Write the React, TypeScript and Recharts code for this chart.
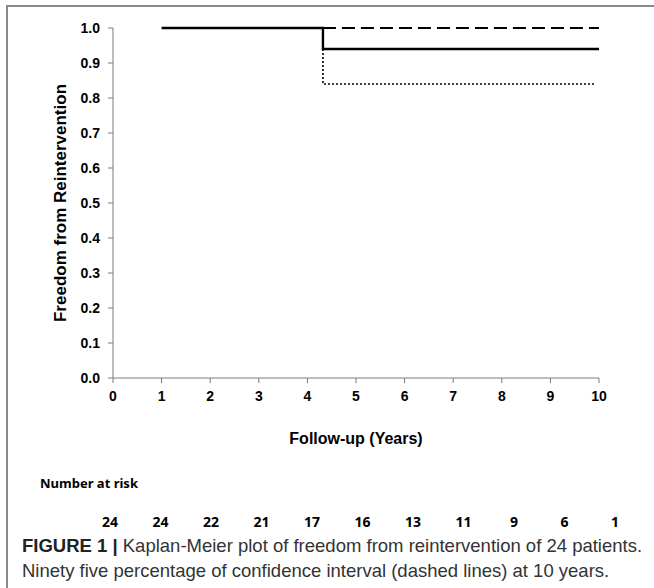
import React from 'react';
import { LineChart, Line, XAxis, YAxis } from 'recharts';

// follow-up years on the x axis
const xTicks = [0, 1, 2, 3, 4, 5, 6, 7, 8, 9, 10];
const yTicks = [0, 0.1, 0.2, 0.3, 0.4, 0.5, 0.6, 0.7, 0.8, 0.9, 1.0];

// Kaplan-Meier estimate and 95% CI bounds
const survival = [
  { year: 1, value: 1.0 },
  { year: 4.32, value: 0.94 },
  { year: 10, value: 0.94 },
];
const upperCI = [
  { year: 4.32, value: 1.0 },
  { year: 10, value: 1.0 },
];
const lowerCI = [
  { year: 4.32, value: 0.94 },
  { year: 4.32, value: 0.84 },
  { year: 9.92, value: 0.84 },
];

const atRisk = [24, 24, 22, 21, 17, 16, 13, 11, 9, 6, 1];

const axisFont = "'Liberation Sans Narrow', 'Liberation Sans', Arial, sans-serif";
const axisColor = '#7a7a7a';

export default function App() {
  return (
    <div
      style={{
        position: 'absolute',
        left: 0,
        top: 0,
        width: 654,
        height: 588,
        background: '#fff',
        overflow: 'hidden',
      }}
    >
      <div
        style={{
          position: 'absolute',
          left: 6,
          top: 5,
          width: 660,
          height: 600,
          borderLeft: '2px solid #8a8a8a',
          borderTop: '2px solid #8a8a8a',
        }}
      />
      <div style={{ position: 'absolute', left: 0, top: 0 }}>
        <LineChart width={654} height={448} margin={{ top: 28, right: 55, bottom: 0, left: 0 }}>
          <XAxis
            type="number"
            dataKey="year"
            domain={[0, 10]}
            ticks={xTicks}
            height={70}
            stroke={axisColor}
            tickSize={5}
            tickMargin={8}
            tick={{ fill: '#000', fontSize: 14, fontWeight: 'bold', fontFamily: axisFont }}
            label={{
              value: 'Follow-up (Years)',
              position: 'insideBottom',
              offset: 4,
              style: { fill: '#000', fontSize: 16, fontWeight: 'bold', fontFamily: "'Liberation Sans', Arial, sans-serif" },
            }}
          />
          <YAxis
            type="number"
            domain={[0, 1]}
            ticks={yTicks}
            width={113}
            stroke={axisColor}
            tickSize={5}
            tickMargin={8}
            tickFormatter={(v: number) => v.toFixed(1)}
            tick={{ fill: '#000', fontSize: 14, fontWeight: 'bold', fontFamily: axisFont }}
            label={{
              value: 'Freedom from Reintervention',
              angle: -90,
              position: 'insideLeft',
              offset: 60,
              style: {
                textAnchor: 'middle',
                fill: '#000',
                fontSize: 17,
                fontWeight: 'bold',
                fontFamily: "'Liberation Sans', Arial, sans-serif",
              },
            }}
          />
          <Line
            data={upperCI}
            dataKey="value"
            type="linear"
            stroke="#000"
            strokeWidth={2.2}
            strokeDasharray="13 6"
            dot={false}
            isAnimationActive={false}
          />
          <Line
            data={lowerCI}
            dataKey="value"
            type="linear"
            stroke="#000"
            strokeWidth={1.6}
            strokeDasharray="2 2"
            dot={false}
            isAnimationActive={false}
          />
          <Line
            data={survival}
            dataKey="value"
            type="stepAfter"
            stroke="#000"
            strokeWidth={2.4}
            dot={false}
            isAnimationActive={false}
          />
        </LineChart>
      </div>

      <div
        style={{
          position: 'absolute',
          left: 40,
          top: 474,
          fontFamily: "'Noto Sans', 'Liberation Sans', sans-serif",
          fontWeight: 'bold',
          fontSize: 13,
          color: '#000',
        }}
      >
        Number at risk
      </div>
      {atRisk.map((n, i) => (
        <div
          key={i}
          style={{
            position: 'absolute',
            left: 110 + i * 50.5 - 20,
            width: 40,
            textAlign: 'center',
            top: 512,
            fontFamily: "'Noto Sans', 'Liberation Sans', sans-serif",
            fontWeight: 'bold',
            fontSize: 14,
            color: '#000',
          }}
        >
          {n}
        </div>
      ))}

      <div
        style={{
          position: 'absolute',
          left: 22,
          top: 533,
          width: 640,
          fontFamily: "'Liberation Sans', Arial, sans-serif",
          fontSize: 18.5,
          lineHeight: '25px',
          color: '#333',
          whiteSpace: 'nowrap',
        }}
      >
        <span style={{ fontWeight: 'bold', color: '#222' }}>FIGURE 1 |</span> Kaplan-Meier plot of freedom from
        reintervention of 24 patients.
        <br />
        Ninety five percentage of confidence interval (dashed lines) at 10 years.
      </div>
    </div>
  );
}
